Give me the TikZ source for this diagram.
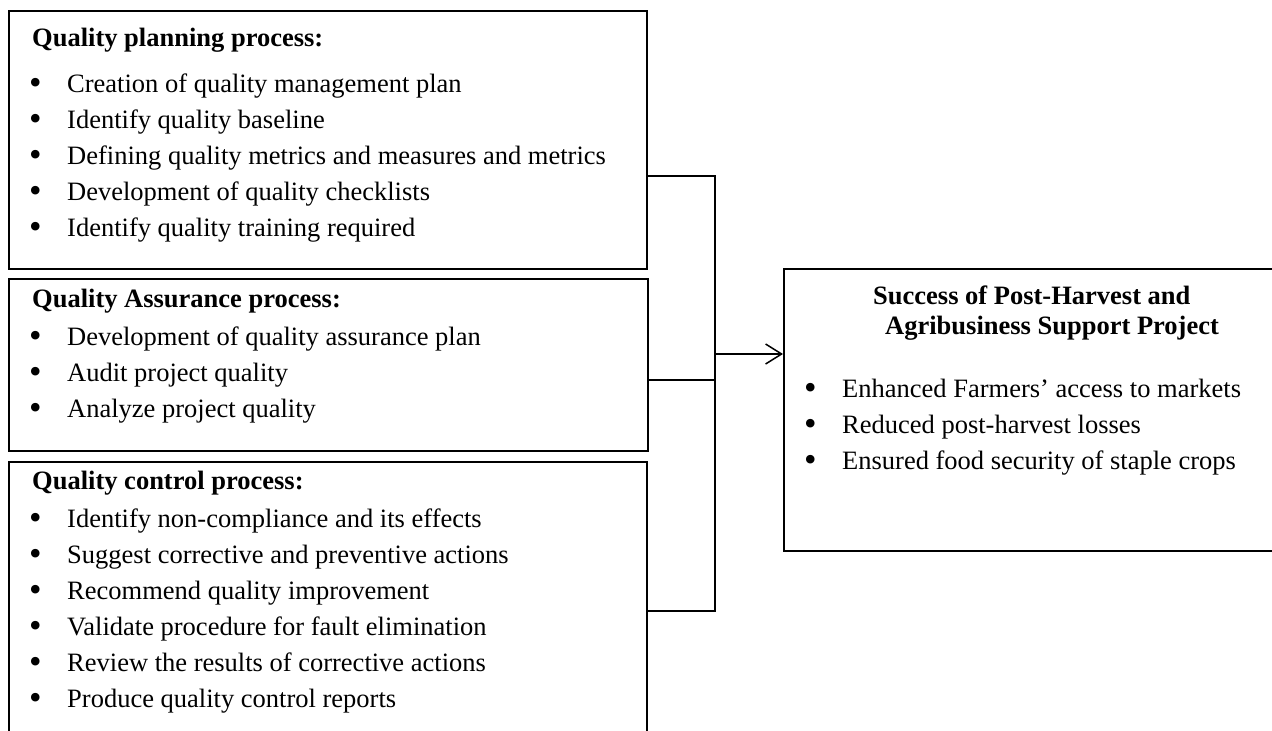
\documentclass[tikz,border=0pt]{standalone}
\usepackage{fontspec}
\setmainfont{Liberation Serif}
\usetikzlibrary{arrows.meta}
\newcommand\mybul{\makebox[0pt][r]{\raisebox{-2.5pt}{\scalebox{1.35}{\textbullet}}\hspace{25.5pt}}}
\begin{document}
\begin{tikzpicture}[x=1pt,y=-1pt,
  box/.style={draw,line width=1.5pt,rectangle,inner sep=0pt,anchor=north west},
  txt/.style={inner sep=0pt,anchor=base west,font=\fontsize{26.5}{30}\selectfont},
  hd/.style={inner sep=0pt,anchor=base west,font=\fontsize{26.5}{30}\selectfont\bfseries},
  itm/.style={txt,execute at begin node=\mybul},
  conn/.style={line width=1.5pt},
]
\useasboundingbox (0,0) rectangle (1272,731);
\clip (0,0) rectangle (1272,731);

% boxes
\node[box,minimum width=638pt,minimum height=258pt] (b1) at (8,10) {};
\node[box,minimum width=639pt,minimum height=172pt] (b2) at (8,278) {};
\node[box,minimum width=638pt,minimum height=300pt] (b3) at (8,461) {};
\node[box,minimum width=520pt,minimum height=282pt] (r) at (783,268) {};

% box 1
\node[hd] (h1) at (32,46) {Quality planning process:};
\node[itm] (i11) at (67,92) {Creation of quality management plan};
\node[itm] (i12) at (67,128) {Identify quality baseline};
\node[itm] (i13) at (67,164) {Defining quality metrics and measures and metrics};
\node[itm] (i14) at (67,200) {Development of quality checklists};
\node[itm] (i15) at (67,236) {Identify quality training required};

% box 2
\node[hd] (h2) at (32,307) {Quality Assurance process:};
\node[itm] (i21) at (67,345) {Development of quality assurance plan};
\node[itm] (i22) at (67,381) {Audit project quality};
\node[itm] (i23) at (67,417) {Analyze project quality};

% box 3
\node[hd] (h3) at (32,489) {Quality control process:};
\node[itm] (i31) at (67,527) {Identify non-compliance and its effects};
\node[itm] (i32) at (67,563) {Suggest corrective and preventive actions};
\node[itm] (i33) at (67,599) {Recommend quality improvement};
\node[itm] (i34) at (67,635) {Validate procedure for fault elimination};
\node[itm] (i35) at (67,671) {Review the results of corrective actions};
\node[itm] (i36) at (67,707) {Produce quality control reports};

% right box
\node[hd] (rt1) at (873,304) {Success of Post-Harvest and};
\node[hd] (rt2) at (885,334) {Agribusiness Support Project};
\node[itm] (r1) at (842,397) {Enhanced Farmers’ access to markets};
\node[itm] (r2) at (842,433) {Reduced post-harvest losses};
\node[itm] (r3) at (842,469) {Ensured food security of staple crops};

% connectors
\coordinate (t1) at (715,176);
\coordinate (t2) at (715,380);
\coordinate (t3) at (715,611);
\coordinate (j) at (715,354);
\draw[conn] (b1.east |- t1) -- (t1) -- (t3) -- (b3.east |- t3);
\draw[conn] (b2.east |- t2) -- (t2);
\draw[conn,-{Straight Barb[length=16pt,width=20pt]}] (j) -- (r.west |- j);
\end{tikzpicture}
\end{document}
